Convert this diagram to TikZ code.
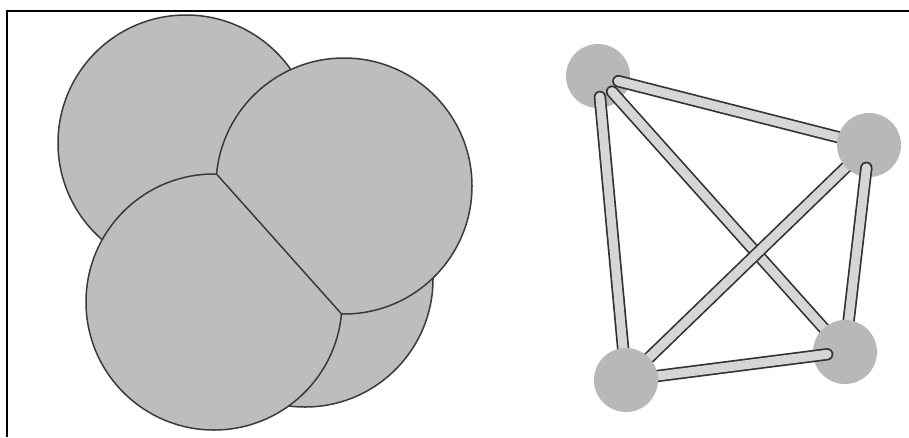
\documentclass[tikz,border=0pt]{standalone}
\usepackage{tikz}
\usetikzlibrary{positioning}
\definecolor{SphereFill}{HTML}{BDBDBD}
\definecolor{SphereLine}{HTML}{3A3A3A}
\definecolor{BallFill}{HTML}{B8B8B8}
\definecolor{BarFill}{HTML}{D6D6D6}
\definecolor{BarLine}{HTML}{333333}

\begin{document}
\begin{tikzpicture}[
  x=1pt, y=-1pt,
  frame/.style={draw=black, line width=1.8pt},
  sphere/.style={fill=SphereFill, draw=SphereLine, line width=1.5pt},
  rim/.style={draw=SphereLine, line width=1.5pt},
  ball/.style={circle, fill=BallFill, minimum size=64pt, inner sep=0pt},
  bar/.style={draw=BarLine, line width=1.7pt, double=BarFill, double distance=9pt, line cap=round}
]
  \useasboundingbox (0,0) rectangle (909,437);
  \draw[frame] (909,11) -- (7,11) -- (7,437);

  \coordinate (sa) at (186,143);
  \coordinate (sb) at (344,186);
  \coordinate (sc) at (214,302);
  \coordinate (sd) at (305,279);
  \coordinate (p1) at (216.4,173.9);
  \coordinate (p2) at (341.6,314.0);

  \draw[sphere] (sa) circle (128);
  \draw[sphere] (sd) circle (128);
  \draw[sphere] (sb) circle (128);
  \begin{scope}
    \clip (83,25) -- (475,463) -- (251,663) -- (-141,225) -- cycle;
    \draw[sphere] (sc) circle (128);
  \end{scope}
  \draw[rim] (p1) -- (p2);

  \coordinate (n1) at (598,76);
  \coordinate (n2) at (869,145);
  \coordinate (n3) at (845,352);
  \coordinate (n4) at (626,380);

  \node[ball] (ball1) at (n1) {};
  \draw[bar, shorten <=21pt] (n1) -- (n2);
  \draw[bar, shorten <=21pt] (n1) -- (n3);
  \draw[bar, shorten <=21pt] (n1) -- (n4);
  \draw[bar] (n2) -- (n4);
  \node[ball] (ball2) at (n2) {};
  \draw[bar, shorten <=23pt] (n2) -- (n3);
  \node[ball] (ball3) at (n3) {};
  \draw[bar, shorten <=18pt] (n3) -- (n4);
  \node[ball] (ball4) at (n4) {};
\end{tikzpicture}
\end{document}
